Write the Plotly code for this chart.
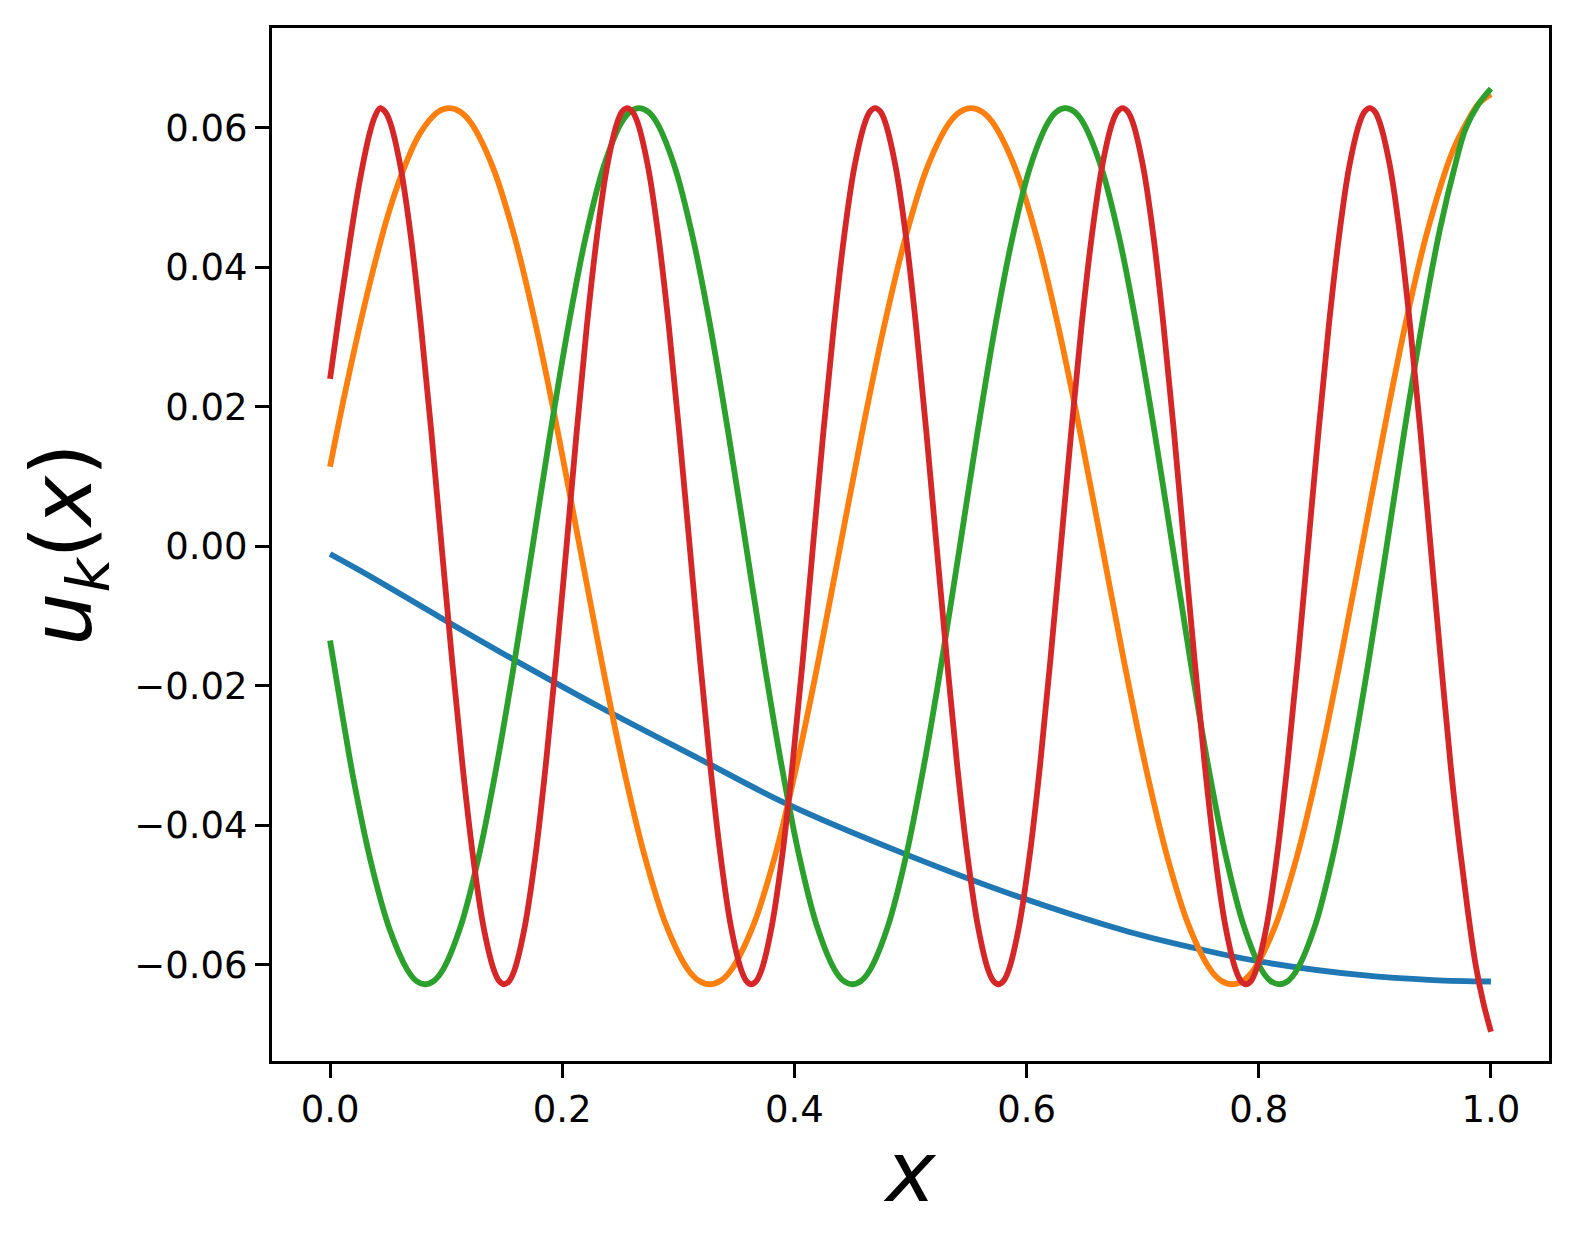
import plotly.graph_objects as go

# ---- data ----
blue_x = [0.0, 0.025, 0.05, 0.0918, 0.1492, 0.2352, 0.3184, 0.393, 0.4934, 0.5938,
          0.6885, 0.75, 0.8032, 0.8893, 0.95, 1.0]
blue_y = [-0.0011, -0.0034, -0.0058, -0.0099, -0.0154, -0.0233, -0.0305, -0.0369, -0.0440, -0.0503,
          -0.0553, -0.0578, -0.0596, -0.0615, -0.0622, -0.0624]

orange_x = [0.0, 0.0143, 0.0344, 0.0516, 0.0656, 0.0775, 0.0933,
            0.1027, 0.1121, 0.1214, 0.1401, 0.1589, 0.1776, 0.1963, 0.2150,
            0.2337, 0.2523, 0.2710, 0.2897, 0.3083, 0.3177,
            0.3270, 0.3364, 0.3458, 0.3645, 0.3833, 0.4020, 0.4208, 0.4395,
            0.4583, 0.4771, 0.4959, 0.5146, 0.5334, 0.5428,
            0.5522, 0.5616, 0.5710, 0.5898, 0.6086, 0.6274, 0.6462, 0.6650,
            0.6837, 0.7023, 0.7210, 0.7397, 0.7583, 0.7677,
            0.7770, 0.7863, 0.7957, 0.8143, 0.8330, 0.8517, 0.8703, 0.8890,
            0.9077, 0.9263, 0.9450, 0.9667, 0.9800, 0.9897, 1.0]
orange_y = [0.0114, 0.0231, 0.0378, 0.0484, 0.0550, 0.0592, 0.0623,
            0.0628, 0.0623, 0.0607, 0.0544, 0.0444, 0.0314, 0.0163, 0.0,
            -0.0163, -0.0314, -0.0444, -0.0544, -0.0607, -0.0623,
            -0.0628, -0.0623, -0.0607, -0.0544, -0.0444, -0.0314, -0.0163, 0.0,
            0.0163, 0.0314, 0.0444, 0.0544, 0.0607, 0.0623,
            0.0628, 0.0623, 0.0607, 0.0544, 0.0444, 0.0314, 0.0163, 0.0,
            -0.0163, -0.0314, -0.0444, -0.0544, -0.0607, -0.0623,
            -0.0628, -0.0623, -0.0607, -0.0544, -0.0444, -0.0314, -0.0163, 0.0,
            0.0164, 0.0318, 0.0450, 0.0565, 0.0610, 0.0635, 0.0648]

green_x = [0.0, 0.0100, 0.0201, 0.0355, 0.0511, 0.0665, 0.0741,
           0.0818, 0.0895, 0.0973, 0.1127, 0.1282, 0.1436, 0.1591, 0.1745,
           0.1898, 0.2051, 0.2203, 0.2356, 0.2509, 0.2586,
           0.2662, 0.2739, 0.2816, 0.2969, 0.3123, 0.3277, 0.3430, 0.3584,
           0.3736, 0.3889, 0.4041, 0.4193, 0.4346, 0.4422,
           0.4498, 0.4575, 0.4653, 0.4807, 0.4962, 0.5116, 0.5271, 0.5425,
           0.5577, 0.5728, 0.5880, 0.6031, 0.6183, 0.6258,
           0.6334, 0.6411, 0.6488, 0.6642, 0.6796, 0.6949, 0.7103, 0.7257,
           0.7410, 0.7563, 0.7716, 0.7870, 0.8023, 0.8100,
           0.8176, 0.8253, 0.8330, 0.8485, 0.8639, 0.8793, 0.8948, 0.9102,
           0.9255, 0.9408, 0.9560, 0.9700, 0.9780, 0.9890, 1.0]
green_y = [-0.0135, -0.0236, -0.0333, -0.0455, -0.0548, -0.0607, -0.0623,
           -0.0628, -0.0623, -0.0607, -0.0544, -0.0444, -0.0314, -0.0163, 0.0,
           0.0163, 0.0314, 0.0444, 0.0544, 0.0607, 0.0623,
           0.0628, 0.0623, 0.0607, 0.0544, 0.0444, 0.0314, 0.0163, 0.0,
           -0.0163, -0.0314, -0.0444, -0.0544, -0.0607, -0.0623,
           -0.0628, -0.0623, -0.0607, -0.0544, -0.0444, -0.0314, -0.0163, 0.0,
           0.0163, 0.0314, 0.0444, 0.0544, 0.0607, 0.0623,
           0.0628, 0.0623, 0.0607, 0.0544, 0.0444, 0.0314, 0.0163, 0.0,
           -0.0163, -0.0314, -0.0444, -0.0544, -0.0607, -0.0623,
           -0.0628, -0.0623, -0.0607, -0.0544, -0.0444, -0.0314, -0.0163, 0.0,
           0.0166, 0.0320, 0.0454, 0.0552, 0.0598, 0.0633, 0.0656]

red_x = [0.0, 0.0086, 0.0172, 0.0258, 0.0344, 0.0386,
         0.0430, 0.0474, 0.0519, 0.0607, 0.0696, 0.0784, 0.0873, 0.0961,
         0.1051, 0.1141, 0.1231, 0.1320, 0.1410, 0.1455,
         0.1500, 0.1545, 0.1590, 0.1679, 0.1769, 0.1858, 0.1948, 0.2037,
         0.2124, 0.2211, 0.2299, 0.2386, 0.2473, 0.2516,
         0.2560, 0.2604, 0.2650, 0.2739, 0.2829, 0.2919, 0.3008, 0.3098,
         0.3187, 0.3275, 0.3364, 0.3452, 0.3541, 0.3585,
         0.3629, 0.3673, 0.3718, 0.3806, 0.3895, 0.3983, 0.4072, 0.4160,
         0.4249, 0.4339, 0.4428, 0.4517, 0.4607, 0.4651,
         0.4696, 0.4741, 0.4784, 0.4872, 0.4961, 0.5049, 0.5137, 0.5225,
         0.5314, 0.5402, 0.5491, 0.5580, 0.5668, 0.5713,
         0.5757, 0.5802, 0.5847, 0.5936, 0.6026, 0.6116, 0.6205, 0.6295,
         0.6384, 0.6472, 0.6561, 0.6650, 0.6738, 0.6783,
         0.6827, 0.6871, 0.6916, 0.7004, 0.7093, 0.7181, 0.7270, 0.7358,
         0.7447, 0.7535, 0.7624, 0.7712, 0.7801, 0.7845,
         0.7889, 0.7934, 0.7978, 0.8068, 0.8157, 0.8246, 0.8336, 0.8425,
         0.8514, 0.8602, 0.8691, 0.8779, 0.8868, 0.8912,
         0.8956, 0.9000, 0.9043, 0.9131, 0.9218, 0.9305, 0.9393, 0.9480,
         0.9568, 0.9655, 0.9730, 0.9800, 0.9868, 0.9935, 1.0]
red_y = [0.0240, 0.0342, 0.0438, 0.0526, 0.0594, 0.0616,
         0.0628, 0.0623, 0.0607, 0.0544, 0.0444, 0.0314, 0.0163, 0.0,
         -0.0163, -0.0314, -0.0444, -0.0544, -0.0607, -0.0623,
         -0.0628, -0.0623, -0.0607, -0.0544, -0.0444, -0.0314, -0.0163, 0.0,
         0.0163, 0.0314, 0.0444, 0.0544, 0.0607, 0.0623,
         0.0628, 0.0623, 0.0607, 0.0544, 0.0444, 0.0314, 0.0163, 0.0,
         -0.0163, -0.0314, -0.0444, -0.0544, -0.0607, -0.0623,
         -0.0628, -0.0623, -0.0607, -0.0544, -0.0444, -0.0314, -0.0163, 0.0,
         0.0163, 0.0314, 0.0444, 0.0544, 0.0607, 0.0623,
         0.0628, 0.0623, 0.0607, 0.0544, 0.0444, 0.0314, 0.0163, 0.0,
         -0.0163, -0.0314, -0.0444, -0.0544, -0.0607, -0.0623,
         -0.0628, -0.0623, -0.0607, -0.0544, -0.0444, -0.0314, -0.0163, 0.0,
         0.0163, 0.0314, 0.0444, 0.0544, 0.0607, 0.0623,
         0.0628, 0.0623, 0.0607, 0.0544, 0.0444, 0.0314, 0.0163, 0.0,
         -0.0163, -0.0314, -0.0444, -0.0544, -0.0607, -0.0623,
         -0.0628, -0.0623, -0.0607, -0.0544, -0.0444, -0.0314, -0.0163, 0.0,
         0.0163, 0.0314, 0.0444, 0.0544, 0.0607, 0.0623,
         0.0628, 0.0623, 0.0607, 0.0544, 0.0444, 0.0314, 0.0163, 0.0,
         -0.0163, -0.0318, -0.0430, -0.0522, -0.0600, -0.0655, -0.0696]

x_ticks = [0.0, 0.2, 0.4, 0.6, 0.8, 1.0]
y_ticks = [-0.06, -0.04, -0.02, 0.00, 0.02, 0.04, 0.06]

series = [
    (blue_x, blue_y, "#1f77b4"),
    (orange_x, orange_y, "#ff7f0e"),
    (green_x, green_y, "#2ca02c"),
    (red_x, red_y, "#d62728"),
]

FONT = "DejaVu Sans"

fig = go.Figure()
for xs, ys, col in series:
    fig.add_trace(go.Scatter(
        x=xs, y=ys, mode="lines",
        line=dict(color=col, width=5.8, shape="spline", smoothing=1.0, simplify=False),
        showlegend=False, hoverinfo="skip",
    ))

axis_common = dict(
    showgrid=False, zeroline=False,
    showline=True, mirror=True, linecolor="black", linewidth=3,
    ticks="outside", ticklen=14, tickwidth=3, tickcolor="black",
    tickfont=dict(family=FONT, size=37, color="black"),
)

# page body has an 8px default margin, so the figure is sized/placed to compensate
fig.update_layout(
    width=1569, height=1245,
    margin=dict(l=264, r=28, t=20, b=192, autoexpand=False),
    paper_bgcolor="white", plot_bgcolor="white",
    xaxis=dict(
        range=[-0.05, 1.05], tickvals=x_ticks, tickformat=".1f",
        title=dict(text="<i>x</i>", font=dict(family=FONT, size=84, color="black"), standoff=12),
        **axis_common,
    ),
    yaxis=dict(
        range=[-0.0738, 0.0743], tickvals=y_ticks, tickformat=".2f",
        title=dict(text="<i>u</i><sub><i>k</i></sub>(<i>x</i>)",
                   font=dict(family=FONT, size=84, color="black"), standoff=15),
        **axis_common,
    ),
)

fig.write_html("out.html")
